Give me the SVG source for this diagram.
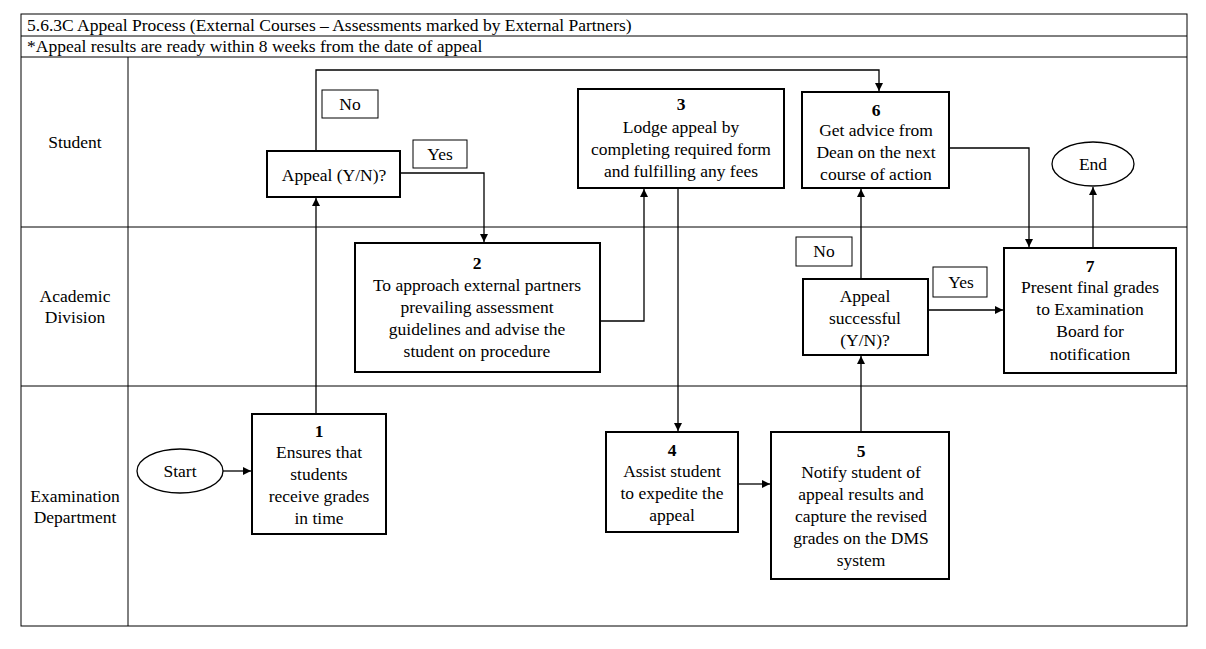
<svg xmlns="http://www.w3.org/2000/svg" width="1206" height="649" viewBox="0 0 1206 649">
<defs>
<style>
text{font-family:"Liberation Serif","Times New Roman",serif;font-size:17.5px;fill:#000}
.c{text-anchor:middle}
.b{font-weight:bold}
.tbl{fill:none;stroke:#000;stroke-width:1}
.node{fill:#fff;stroke:#000;stroke-width:2}
.lbl{fill:#fff;stroke:#000;stroke-width:1}
.conn{fill:none;stroke:#000;stroke-width:1.3}
</style>
<marker id="arr" viewBox="0 0 10 10" refX="10" refY="5" markerWidth="8" markerHeight="8" markerUnits="userSpaceOnUse" orient="auto">
<path d="M0,0 L10,5 L0,10 z" fill="#000"/>
</marker>
</defs>
<rect width="1206" height="649" fill="#fff"/>
<g id="table">
<rect class="tbl" x="21" y="14" width="1166" height="612"/>
<line class="tbl" x1="21" y1="36" x2="1187" y2="36"/>
<line class="tbl" x1="21" y1="57" x2="1187" y2="57"/>
<line class="tbl" x1="128" y1="57" x2="128" y2="626"/>
<line class="tbl" x1="21" y1="227" x2="1187" y2="227"/>
<line class="tbl" x1="21" y1="386" x2="1187" y2="386"/>
<text x="27" y="31">5.6.3C Appeal Process (External Courses – Assessments marked by External Partners)</text>
<text x="27" y="52">*Appeal results are ready within 8 weeks from the date of appeal</text>
<text class="c" x="75" y="148">Student</text>
<text class="c" x="75" y="302">Academic</text>
<text class="c" x="75" y="323">Division</text>
<text class="c" x="75" y="502">Examination</text>
<text class="c" x="75" y="523">Department</text>
</g>
<g id="connectors">
<path class="conn" d="M223,471 H251" stroke-width="2" marker-end="url(#arr)"/>
<path class="conn" d="M316,414 V198" marker-end="url(#arr)"/>
<path class="conn" d="M316,151 V70 H879 V91" marker-end="url(#arr)"/>
<path class="conn" d="M400,173 H484 V242" marker-end="url(#arr)"/>
<path class="conn" d="M600,321 H644 V189" marker-end="url(#arr)"/>
<path class="conn" d="M678,188 V431" marker-end="url(#arr)"/>
<path class="conn" d="M738,484 H770" marker-end="url(#arr)"/>
<path class="conn" d="M861,432 V356" marker-end="url(#arr)"/>
<path class="conn" d="M861,279 V189" marker-end="url(#arr)"/>
<path class="conn" d="M928,310 H1003" marker-end="url(#arr)"/>
<path class="conn" d="M949,148 H1029 V247" marker-end="url(#arr)"/>
<path class="conn" d="M1093,248 V187" marker-end="url(#arr)"/>
</g>
<g id="label-no1"><rect class="lbl" x="322" y="90" width="56" height="28"/><text class="c" x="350" y="110">No</text></g>
<g id="label-yes1"><rect class="lbl" x="413" y="140" width="54" height="28"/><text class="c" x="440" y="160">Yes</text></g>
<g id="label-no2"><rect class="lbl" x="796" y="237" width="56" height="29"/><text class="c" x="824" y="257">No</text></g>
<g id="label-yes2"><rect class="lbl" x="933" y="267" width="54" height="30"/><text class="c" x="961" y="288">Yes</text></g>
<g id="start"><ellipse cx="180" cy="471" rx="43" ry="22" fill="#fff" stroke="#000" stroke-width="1.3"/><text class="c" x="180" y="477">Start</text></g>
<g id="end"><ellipse cx="1093" cy="164" rx="41" ry="22" fill="#fff" stroke="#000" stroke-width="1.3"/><text class="c" x="1093" y="170">End</text></g>
<g id="appeal-yn"><rect class="node" x="267" y="151" width="133" height="46"/><text class="c" x="334" y="181">Appeal (Y/N)?</text></g>
<g id="step1"><rect class="node" x="252" y="414" width="134" height="120"/>
<text class="c b" x="319" y="437">1</text>
<text class="c" x="319" y="458">Ensures that</text>
<text class="c" x="319" y="480">students</text>
<text class="c" x="319" y="502">receive grades</text>
<text class="c" x="319" y="524">in time</text></g>
<g id="step2"><rect class="node" x="355" y="243" width="245" height="129"/>
<text class="c b" x="477" y="269">2</text>
<text class="c" x="477" y="291">To approach external partners</text>
<text class="c" x="477" y="313">prevailing assessment</text>
<text class="c" x="477" y="335">guidelines and advise the</text>
<text class="c" x="477" y="357">student on procedure</text></g>
<g id="step3"><rect class="node" x="578" y="89" width="206" height="99"/>
<text class="c b" x="681" y="110">3</text>
<text class="c" x="681" y="133">Lodge appeal by</text>
<text class="c" x="681" y="155">completing required form</text>
<text class="c" x="681" y="177">and fulfilling any fees</text></g>
<g id="step4"><rect class="node" x="606" y="432" width="132" height="100"/>
<text class="c b" x="672" y="456">4</text>
<text class="c" x="672" y="477">Assist student</text>
<text class="c" x="672" y="499">to expedite the</text>
<text class="c" x="672" y="521">appeal</text></g>
<g id="step5"><rect class="node" x="771" y="432" width="178" height="147"/>
<text class="c b" x="861" y="457">5</text>
<text class="c" x="861" y="478">Notify student of</text>
<text class="c" x="861" y="500">appeal results and</text>
<text class="c" x="861" y="522">capture the revised</text>
<text class="c" x="861" y="544">grades on the DMS</text>
<text class="c" x="861" y="566">system</text></g>
<g id="appeal-success"><rect class="node" x="803" y="279" width="125" height="76"/>
<text class="c" x="865" y="302">Appeal</text>
<text class="c" x="865" y="324">successful</text>
<text class="c" x="865" y="346">(Y/N)?</text></g>
<g id="step6"><rect class="node" x="802" y="92" width="147" height="96"/>
<text class="c b" x="876" y="116">6</text>
<text class="c" x="876" y="136">Get advice from</text>
<text class="c" x="876" y="158">Dean on the next</text>
<text class="c" x="876" y="180">course of action</text></g>
<g id="step7"><rect class="node" x="1004" y="248" width="172" height="125"/>
<text class="c b" x="1090" y="272">7</text>
<text class="c" x="1090" y="293">Present final grades</text>
<text class="c" x="1090" y="315">to Examination</text>
<text class="c" x="1090" y="337">Board for</text>
<text class="c" x="1090" y="360">notification</text></g>
</svg>
